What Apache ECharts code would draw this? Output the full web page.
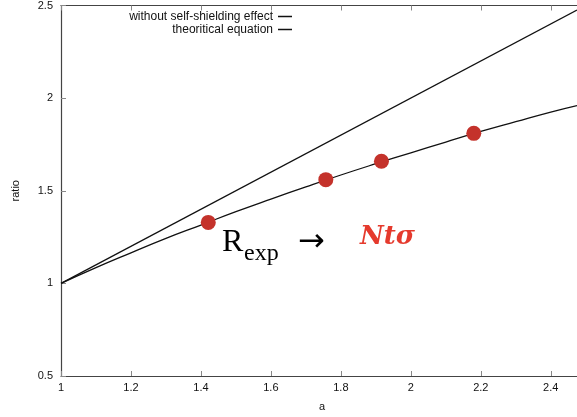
<!DOCTYPE html>
<html><head><meta charset="utf-8">
<script src="https://cdn.jsdelivr.net/npm/echarts@6/dist/echarts.min.js"></script>
<style>html,body{margin:0;padding:0;background:#fff}#c{width:577px;height:417px}</style>
</head><body><div id="c"></div>
<script>
// Data
const xTicks = [1, 1.2, 1.4, 1.6, 1.8, 2, 2.2, 2.4];
const noShieldX = [1, 2.475];
const noShieldY = [1, 2.475];
const theoryX = [1, 1.1, 1.2, 1.3, 1.4, 1.5, 1.6, 1.7, 1.8, 1.9, 2.0, 2.1, 2.2, 2.3, 2.4, 2.475];
const theoryY = [1, 1.085, 1.165, 1.243, 1.315, 1.387, 1.455, 1.521, 1.585, 1.646, 1.705, 1.763, 1.82, 1.873, 1.925, 1.96];
const expX = [1.421, 1.757, 1.916, 2.18];
const expY = [1.329, 1.56, 1.659, 1.81];
const seriesNames = ['without self-shielding effect', 'theoritical equation'];

const zip = (xs, ys) => xs.map((x, i) => [x, ys[i]]);
const chart = echarts.init(document.getElementById('c'), null, {renderer: 'canvas'});
const axisCol = '#444';
const font = 'Liberation Sans, Arial, sans-serif';
const serif = 'Liberation Serif, Times New Roman, serif';
chart.setOption({
  animation: false,
  grid: {left: 61, top: 5, right: 0, bottom: 38, containLabel: false},
  legend: {
    data: seriesNames, orient: 'vertical', align: 'right',
    right: 285, top: 10, itemWidth: 14, itemHeight: 1.5, itemGap: 0, padding: 0,
    textStyle: {fontFamily: font, fontSize: 12, lineHeight: 13, color: '#111'},
    icon: 'rect'
  },
  xAxis: [{
    type: 'value', min: 1, max: 2.475, interval: 0.2,
    name: 'a', nameLocation: 'middle', nameGap: 25,
    nameTextStyle: {fontFamily: font, fontSize: 11, color: '#111', padding: [0, 0, 0, 6]},
    axisLine: {show: true, onZero: false, lineStyle: {color: axisCol, width: 1.2}},
    axisTick: {show: true, inside: true, length: 5, lineStyle: {color: '#888'}},
    axisLabel: {showMaxLabel: false, margin: 6, fontFamily: font, fontSize: 11, color: '#111',
      formatter: v => String(Math.round(v * 10) / 10)},
    splitLine: {show: false}
  }, {
    type: 'value', position: 'top', min: 1, max: 2.475, interval: 0.2,
    axisLine: {show: true, lineStyle: {color: axisCol, width: 1.2}},
    axisTick: {show: true, inside: true, length: 5, lineStyle: {color: '#888'}},
    axisLabel: {show: false}, splitLine: {show: false}
  }],
  yAxis: {
    type: 'value', min: 0.5, max: 2.5, interval: 0.5,
    name: 'ratio', nameLocation: 'middle', nameGap: 40,
    nameTextStyle: {fontFamily: font, fontSize: 11, color: '#111'},
    axisLine: {show: true, onZero: false, lineStyle: {color: axisCol, width: 1.2}},
    axisTick: {show: true, inside: true, length: 5, lineStyle: {color: '#888'}},
    axisLabel: {margin: 8, fontFamily: font, fontSize: 11, color: '#111'},
    splitLine: {show: false}
  },
  series: [{
    name: seriesNames[0], type: 'line', data: zip(noShieldX, noShieldY),
    symbol: 'none', lineStyle: {color: '#111', width: 1.3}, itemStyle: {color: '#111'}
  }, {
    name: seriesNames[1], type: 'line', data: zip(theoryX, theoryY), smooth: true,
    symbol: 'none', lineStyle: {color: '#111', width: 1.3}, itemStyle: {color: '#111'}
  }, {
    name: 'exp', type: 'scatter', data: zip(expX, expY), symbolSize: 15,
    itemStyle: {color: '#c4322b', opacity: 1}, z: 5
  }],
  graphic: [
    {type: 'text', x: 222, y: 243, style: {text: 'R', fontFamily: serif, fontSize: 32, fill: '#000', verticalAlign: 'middle'}},
    {type: 'text', x: 244, y: 254, style: {text: 'exp', fontFamily: serif, fontSize: 24, fill: '#000', verticalAlign: 'middle'}},
    {type: 'text', x: 298, y: 243, style: {text: '→', fontFamily: 'DejaVu Sans, sans-serif', fontSize: 32, fill: '#000', verticalAlign: 'middle'}},
    {type: 'text', x: 360, y: 237, style: {text: 'Ntσ', fontFamily: 'DejaVu Serif, serif', fontStyle: 'italic', fontWeight: 'bold', fontSize: 26, fill: '#e53a2d', verticalAlign: 'middle'}}
  ]
});
</script></body></html>
